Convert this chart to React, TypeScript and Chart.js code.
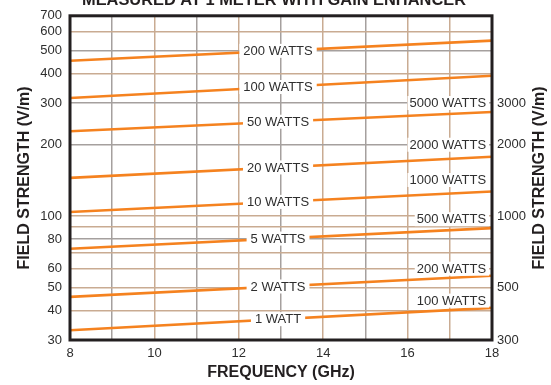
import React, { useEffect, useRef } from 'react';
import { Chart, registerables } from 'chart.js';

Chart.register(...registerables);

// Frequency span (GHz)
const FREQ_START = 8;
const FREQ_END = 18;

// Transmit power lines, read against the left axis (V/m)
const powerLabels = ['1 WATT', '2 WATTS', '5 WATTS', '10 WATTS', '20 WATTS', '50 WATTS', '100 WATTS', '200 WATTS'];
const fieldAt8GHz = [33, 45.6, 72.8, 104, 145, 228, 315, 452];
const fieldAt18GHz = [41, 56, 89, 127, 178, 275, 391, 550];

// The same lines read against the right axis (x10 field, x100 power)
const highPowerLabels = ['100 WATTS', '200 WATTS', '500 WATTS', '1000 WATTS', '2000 WATTS', '5000 WATTS'];
const highPowerLabelLevels = [44, 60, 97, 142, 200, 300];

// Axis ticks
const leftTickLabels = [30, 40, 50, 60, 80, 100, 200, 300, 400, 500, 600, 700];
const leftGridValues = [30, 40, 50, 60, 70, 80, 90, 100, 200, 300, 400, 500, 600, 700];
const rightTickLabels = [300, 500, 1000, 2000, 3000];
const freqTickLabels = [8, 10, 12, 14, 16, 18];
const grayGridY = [80, 200, 300, 500];
const grayGridX = [9, 11, 13, 15];

const centerLabelFreq = 12.93;
const rightLabelFreq = 17.86;

const FONT = '"Liberation Sans", Arial, Helvetica, sans-serif';
const ORANGE = '#f5821f';
const TAN = '#c9ab92';
const GRAY = '#a5a09e';
const INK = '#231f20';
const TEXT = '#2e2e2e';

const annotations = {
  id: 'wattAnnotations',
  afterDatasetsDraw(chart: any) {
    const { ctx, chartArea, scales } = chart;
    const x = scales.x;
    const y = scales.y;
    ctx.save();
    ctx.font = `13px ${FONT}`;
    ctx.textBaseline = 'middle';

    // labels sitting on each power line
    const t = (centerLabelFreq - FREQ_START) / (FREQ_END - FREQ_START);
    powerLabels.forEach((text, i) => {
      const a = Math.log10(fieldAt8GHz[i]);
      const b = Math.log10(fieldAt18GHz[i]);
      const v = Math.pow(10, a + (b - a) * t);
      const px = x.getPixelForValue(centerLabelFreq);
      const py = y.getPixelForValue(v);
      const w = ctx.measureText(text).width;
      ctx.fillStyle = '#ffffff';
      ctx.fillRect(px - w / 2 - 4, py - 7, w + 8, 14);
      ctx.fillStyle = TEXT;
      ctx.textAlign = 'center';
      ctx.fillText(text, px, py + 0.5);
    });

    // labels for the right-hand scale
    highPowerLabels.forEach((text, i) => {
      const px = x.getPixelForValue(rightLabelFreq);
      const py = y.getPixelForValue(highPowerLabelLevels[i]);
      const w = ctx.measureText(text).width;
      ctx.fillStyle = '#ffffff';
      ctx.fillRect(px - w - 2, py - 7, w + 5, 14);
      ctx.fillStyle = TEXT;
      ctx.textAlign = 'right';
      ctx.fillText(text, px, py + 0.5);
    });

    // plot frame
    ctx.strokeStyle = INK;
    ctx.lineWidth = 3;
    ctx.strokeRect(chartArea.left, chartArea.top, chartArea.right - chartArea.left, chartArea.bottom - chartArea.top);
    ctx.restore();
  },
  afterDraw(chart: any) {
    const { ctx, chartArea } = chart;
    ctx.save();
    ctx.fillStyle = INK;
    ctx.font = `bold 16.4px ${FONT}`;
    ctx.textAlign = 'center';
    ctx.textBaseline = 'alphabetic';
    ctx.fillText('MEASURED AT 1 METER WITH GAIN ENHANCER', 274, 4.5);

    // right axis title, reading bottom to top
    ctx.font = `bold 16px ${FONT}`;
    ctx.textBaseline = 'middle';
    ctx.translate(540, (chartArea.top + chartArea.bottom) / 2);
    ctx.rotate(-Math.PI / 2);
    ctx.fillText('FIELD STRENGTH (V/m)', 0, 0);
    ctx.restore();
  },
};

export default function App() {
  const canvasRef = useRef<HTMLCanvasElement | null>(null);

  useEffect(() => {
    if (!canvasRef.current) return;
    const datasets = powerLabels.map((label, i) => ({
      label,
      data: [
        { x: FREQ_START, y: fieldAt8GHz[i] },
        { x: FREQ_END, y: fieldAt18GHz[i] },
      ],
      borderColor: ORANGE,
      borderWidth: 2.6,
      pointRadius: 0,
      tension: 0,
      yAxisID: 'y',
    }));

    const chart = new Chart(canvasRef.current, {
      type: 'line',
      data: { datasets },
      plugins: [annotations],
      options: {
        responsive: false,
        animation: false,
        layout: { padding: { top: 14, left: 0, right: 0, bottom: 0 } },
        plugins: {
          legend: { display: false },
          tooltip: { enabled: false },
          title: { display: false },
        },
        scales: {
          x: {
            type: 'linear',
            min: FREQ_START,
            max: FREQ_END,
            afterFit: (s: any) => {
              s.height = 45;
            },
            afterBuildTicks: (s: any) => {
              const ticks = [];
              for (let v = FREQ_START; v <= FREQ_END; v += 1) ticks.push({ value: v });
              s.ticks = ticks;
            },
            border: { display: false },
            grid: {
              drawTicks: false,
              lineWidth: 1.5,
              color: (c: any) => (grayGridX.includes(c.tick?.value) ? GRAY : TAN),
            },
            ticks: {
              autoSkip: false,
              maxRotation: 0,
              padding: 6,
              color: TEXT,
              font: { family: FONT, size: 13 },
              callback: (v: any) => (freqTickLabels.includes(Number(v)) ? String(v) : ''),
            },
            title: {
              display: true,
              text: 'FREQUENCY (GHz)',
              color: INK,
              font: { family: FONT, size: 16, weight: 'bold' },
              padding: { top: 0, bottom: 3 },
            },
          },
          y: {
            type: 'logarithmic',
            position: 'left',
            min: 30,
            max: 700,
            afterFit: (s: any) => {
              s.width = 70;
            },
            afterBuildTicks: (s: any) => {
              s.ticks = leftGridValues.map((value) => ({ value }));
            },
            border: { display: false },
            grid: {
              drawTicks: false,
              lineWidth: 1.5,
              color: (c: any) => (grayGridY.includes(c.tick?.value) ? GRAY : TAN),
            },
            ticks: {
              autoSkip: false,
              padding: 8,
              color: TEXT,
              font: { family: FONT, size: 13 },
              callback: (v: any) => (leftTickLabels.includes(Number(v)) ? String(v) : ''),
            },
            title: {
              display: true,
              text: 'FIELD STRENGTH (V/m)',
              color: INK,
              font: { family: FONT, size: 16, weight: 'bold' },
              padding: { top: 15, bottom: 0 },
            },
          },
          y2: {
            type: 'logarithmic',
            position: 'right',
            min: 300,
            max: 7000,
            afterFit: (s: any) => {
              s.width = 59;
            },
            afterBuildTicks: (s: any) => {
              s.ticks = rightTickLabels.map((value) => ({ value }));
            },
            border: { display: false },
            grid: { drawOnChartArea: false, drawTicks: false },
            ticks: {
              autoSkip: false,
              padding: 5,
              color: TEXT,
              font: { family: FONT, size: 13 },
              callback: (v: any) => String(v),
            },
          },
        },
      },
    });
    return () => chart.destroy();
  }, []);

  return (
    <div style={{ position: 'fixed', left: 0, top: 0, width: 551, height: 385, background: '#ffffff' }}>
      <canvas ref={canvasRef} width={551} height={385} style={{ display: 'block' }} />
    </div>
  );
}
